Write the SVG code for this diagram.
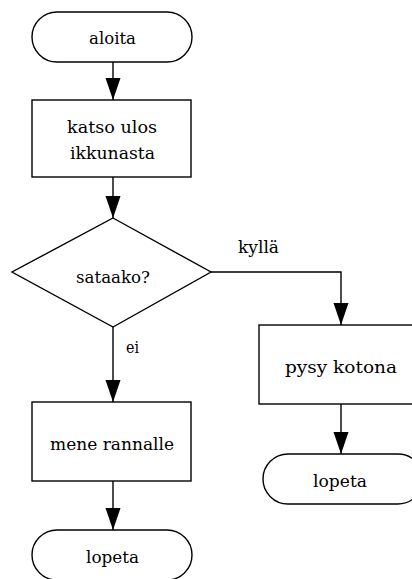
<svg xmlns="http://www.w3.org/2000/svg" width="412" height="579" viewBox="0 0 412 579">
<defs>
<style>
.shape{fill:#fff;stroke:#000;stroke-width:1.4}
.line{fill:none;stroke:#000;stroke-width:1.4}
text{font-family:'DejaVu Serif','Liberation Serif',serif;font-size:16.5px;fill:#000}
</style>
<marker id="arr" viewBox="0 0 22 16" refX="22" refY="8" markerWidth="22" markerHeight="16" markerUnits="userSpaceOnUse" orient="auto">
<path d="M0,0.5 L22,8 L0,15.5 Z" fill="#000"/>
</marker>
</defs>
<rect width="412" height="579" fill="#fff"/>
<g id="connectors">
<path class="line" d="M113,62 V100" marker-end="url(#arr)"/>
<path class="line" d="M113,177 V218" marker-end="url(#arr)"/>
<path class="line" d="M211,272 H341 V325" marker-end="url(#arr)"/>
<path class="line" d="M113,327 V402" marker-end="url(#arr)"/>
<path class="line" d="M113,481 V530" marker-end="url(#arr)"/>
<path class="line" d="M341,404 V454" marker-end="url(#arr)"/>
<text x="238" y="253" textLength="41" lengthAdjust="spacingAndGlyphs">kyllä</text>
<text x="126" y="353" textLength="13" lengthAdjust="spacingAndGlyphs">ei</text>
</g>
<g id="aloita">
<rect class="shape" x="32" y="12" width="160" height="50" rx="25" ry="25"/>
<text x="89" y="44" textLength="47" lengthAdjust="spacingAndGlyphs">aloita</text>
</g>
<g id="katso">
<rect class="shape" x="32" y="100" width="159" height="77"/>
<text x="67" y="133" textLength="90" lengthAdjust="spacingAndGlyphs">katso ulos</text>
<text x="70" y="159" textLength="85" lengthAdjust="spacingAndGlyphs">ikkunasta</text>
</g>
<g id="sataako">
<path class="shape" d="M113,218 L211,272 L113,327 L12,272 Z"/>
<text x="76" y="283" textLength="74" lengthAdjust="spacingAndGlyphs">sataako?</text>
</g>
<g id="pysy">
<rect class="shape" x="259" y="325" width="159" height="79"/>
<text x="285" y="373" textLength="112" lengthAdjust="spacingAndGlyphs">pysy kotona</text>
</g>
<g id="lopeta2">
<rect class="shape" x="263" y="454" width="160" height="50" rx="25" ry="25"/>
<text x="313" y="487" textLength="54" lengthAdjust="spacingAndGlyphs">lopeta</text>
</g>
<g id="mene">
<rect class="shape" x="32" y="402" width="159" height="79"/>
<text x="50" y="450" textLength="124" lengthAdjust="spacingAndGlyphs">mene rannalle</text>
</g>
<g id="lopeta1">
<rect class="shape" x="32" y="530" width="160" height="50" rx="25" ry="25"/>
<text x="86" y="563" textLength="53" lengthAdjust="spacingAndGlyphs">lopeta</text>
</g>
</svg>
